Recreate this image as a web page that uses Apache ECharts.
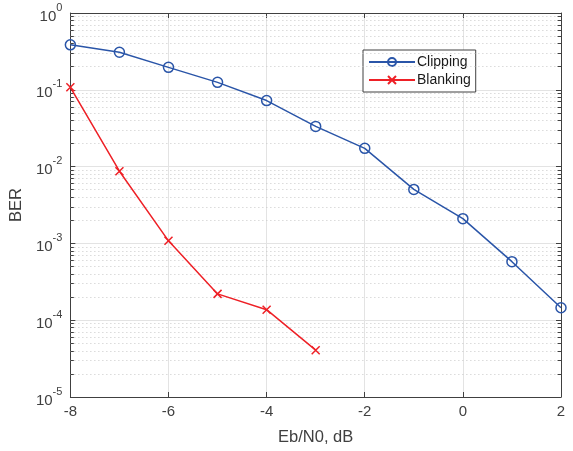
<!DOCTYPE html>
<html><head><meta charset="utf-8">
<script src="https://cdn.jsdelivr.net/npm/echarts@6/dist/echarts.min.js"></script>
<style>html,body{margin:0;padding:0;background:#fff}#c{width:573px;height:451px}</style>
</head><body><div id="c"></div>
<script>
const ebn0 = [-8, -7, -6, -5, -4, -3, -2, -1, 0, 1, 2];
const clipping = [0.385, 0.308, 0.196, 0.125, 0.0724, 0.0334, 0.0173, 0.00505, 0.0021, 0.000578, 0.000145];
const ebn0Blank = [-8, -7, -6, -5, -4, -3];
const blanking = [0.1077, 0.0087, 0.00108, 0.00022, 0.000137, 0.0000407];
const xTicks = [-8, -6, -4, -2, 0, 2];
const decades = [-5, -4, -3, -2, -1, 0];

const FONT = 'Liberation Sans, Arial, Helvetica, sans-serif';
const AX = '#404040';
const BLUE = '#2a55a8';
const RED = '#ee2026';

const minorVals = [];
for (let d = decades[0]; d < decades[decades.length - 1]; d++) for (let k = 2; k <= 9; k++) minorVals.push(k * Math.pow(10, d));

const xMin = xTicks[0], xMax = xTicks[xTicks.length - 1];
const tickLen = 0.07;
const minorGrid = minorVals.map(v => ({ yAxis: v }));
const minorTicks = [];
minorVals.forEach(v => {
  minorTicks.push([{ coord: [xMin, v] }, { coord: [xMin + tickLen, v] }]);
  minorTicks.push([{ coord: [xMax - tickLen, v] }, { coord: [xMax, v] }]);
});

const chart = echarts.init(document.getElementById('c'), null, { renderer: 'canvas' });
const yLabel = {
  fontFamily: FONT, color: AX, margin: 8,
  formatter: v => '{b|10}{s|' + Math.round(Math.log10(v)) + '}',
  rich: {
    b: { fontSize: 15, fontFamily: FONT, color: AX, verticalAlign: 'bottom', lineHeight: 22 },
    s: { fontSize: 11, fontFamily: FONT, color: AX, verticalAlign: 'top', lineHeight: 22 }
  }
};
chart.setOption({
  animation: false,
  backgroundColor: '#fff',
  grid: { left: 70, right: 12, top: 13, bottom: 52, containLabel: false },
  legend: {
    left: 363, top: 50, orient: 'vertical',
    padding: [5, 5, 5, 5], itemGap: 4,
    itemWidth: 46, itemHeight: 10,
    borderColor: '#404040', borderWidth: 1, backgroundColor: '#fff',
    textStyle: { fontFamily: FONT, fontSize: 14, color: '#1a1a1a', padding: [0, 0, 0, -3] },
    data: ['Clipping', 'Blanking']
  },
  xAxis: [{
    type: 'value', min: xMin, max: xMax, interval: 2,
    name: 'Eb/N0, dB', nameLocation: 'middle', nameGap: 32,
    nameTextStyle: { fontFamily: FONT, fontSize: 16.5, color: AX },
    axisLine: { show: true, onZero: false, lineStyle: { color: AX, width: 1 } },
    axisTick: { show: true, inside: true, length: 5, lineStyle: { color: AX } },
    axisLabel: { fontFamily: FONT, fontSize: 15, color: AX, margin: 7 },
    splitLine: { show: true, lineStyle: { color: '#e3e3e3', width: 1 } }
  }, {
    type: 'value', min: xMin, max: xMax, interval: 2, position: 'top',
    axisLine: { show: true, onZero: false, lineStyle: { color: AX, width: 1 } },
    axisTick: { show: true, inside: true, length: 5, lineStyle: { color: AX } },
    axisLabel: { show: false }, splitLine: { show: false }
  }],
  yAxis: [{
    type: 'log', logBase: 10, min: 1e-5, max: 1, interval: 1,
    name: 'BER', nameLocation: 'middle', nameGap: 39,
    nameTextStyle: { fontFamily: FONT, fontSize: 16.5, color: AX },
    axisLine: { show: true, onZero: false, lineStyle: { color: AX, width: 1 } },
    axisTick: { show: true, inside: true, length: 5, lineStyle: { color: AX } },
    axisLabel: yLabel,
    splitLine: { show: true, lineStyle: { color: '#e3e3e3', width: 1 } },
    minorTick: { show: false }
  }, {
    type: 'log', logBase: 10, min: 1e-5, max: 1, interval: 1, position: 'right',
    axisLine: { show: true, onZero: false, lineStyle: { color: AX, width: 1 } },
    axisTick: { show: true, inside: true, length: 5, lineStyle: { color: AX } },
    axisLabel: { show: false }, splitLine: { show: false }
  }],
  series: [{
    type: 'line', name: '_grid', silent: true, data: [], z: 1,
    markLine: {
      silent: true, symbol: 'none', animation: false, label: { show: false },
      precision: 12,
      lineStyle: { type: [1, 3], color: '#c8c8c8', width: 1 },
      emphasis: { disabled: true },
      data: minorGrid
    }
  }, {
    type: 'line', name: '_ticks', silent: true, data: [], z: 5,
    markLine: {
      silent: true, symbol: 'none', animation: false, label: { show: false },
      precision: 12,
      lineStyle: { type: 'solid', color: AX, width: 1 },
      emphasis: { disabled: true },
      data: minorTicks
    }
  }, {
    type: 'line', name: 'Clipping', z: 10,
    data: ebn0.map((x, i) => [x, clipping[i]]),
    symbol: 'circle', symbolSize: 10, showSymbol: true,
    lineStyle: { color: BLUE, width: 1.5 },
    itemStyle: { color: 'rgba(255,255,255,0)', borderColor: BLUE, borderWidth: 1.5 }
  }, {
    type: 'line', name: 'Blanking', z: 10,
    data: ebn0Blank.map((x, i) => [x, blanking[i]]),
    symbol: 'path://M0,0L10,10M10,0L0,10', symbolSize: 8, showSymbol: true,
    lineStyle: { color: RED, width: 1.5 },
    itemStyle: { color: RED, borderColor: RED, borderWidth: 1.5 }
  }]
});
</script></body></html>
